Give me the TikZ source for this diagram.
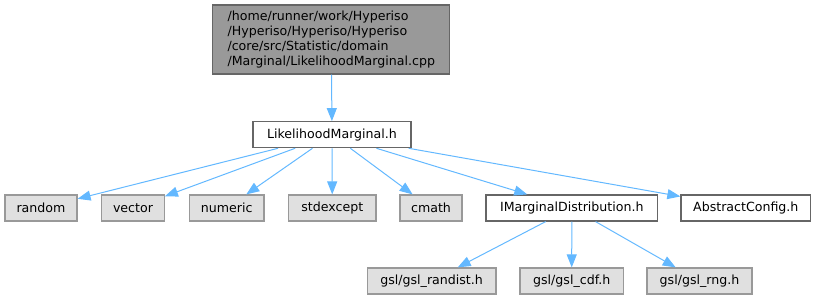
\documentclass[tikz,border=0pt]{standalone}
\usepackage{fontspec}
\setmainfont{DejaVu Sans}
\usetikzlibrary{arrows.meta}
\definecolor{edgeblue}{HTML}{63B8FF}
\definecolor{rootfill}{HTML}{999999}
\definecolor{boxgray}{HTML}{666666}
\definecolor{sysfill}{HTML}{E0E0E0}
\definecolor{sysgray}{HTML}{999999}

\begin{document}
\begin{tikzpicture}[
    x=1pt, y=-1pt,
    font=\fontsize{12.6}{15}\selectfont,
    box/.style={draw=boxgray, line width=1.2pt, inner sep=0pt, minimum height=26pt},
    root/.style={box, fill=rootfill, align=left, minimum width=237pt, minimum height=69pt},
    usr/.style={box, fill=white},
    sys/.style={box, draw=sysgray, fill=sysfill},
    dep/.style={-{Triangle[length=13pt,width=10pt]}, edgeblue, line width=1pt}
  ]
  \useasboundingbox (0,0) rectangle (817,300);

  % Source file
  \node[root] (src) at (331.3,39.5) {/home/runner/work/Hyperiso\\/Hyperiso/Hyperiso/Hyperiso\\/core/src/Statistic/domain\\/Marginal/LikelihoodMarginal.cpp};

  % Header
  \node[usr, minimum width=158pt] (lm) at (332,134.7) {LikelihoodMarginal.h};

  % Direct includes
  \node[sys, minimum width=72pt] (random) at (41,208) {random};
  \node[sys, minimum width=62.6pt] (vector) at (133,208) {vector};
  \node[sys, minimum width=74.7pt] (numeric) at (226.7,208) {numeric};
  \node[sys, minimum width=87.3pt] (stdexcept) at (332.3,208) {stdexcept};
  \node[sys, minimum width=62pt] (cmath) at (431,208) {cmath};
  \node[usr, minimum width=171.7pt] (imd) at (571.8,208) {IMarginalDistribution.h};
  \node[usr, minimum width=129.7pt] (absconf) at (745.8,208) {AbstractConfig.h};

  % GSL includes
  \node[sys, minimum width=128.7pt] (randist) at (431.6,281) {gsl/gsl\_randist.h};
  \node[sys, minimum width=103.3pt] (cdf) at (571.7,281) {gsl/gsl\_cdf.h};
  \node[sys, minimum width=105pt] (rng) at (699.5,281) {gsl/gsl\_rng.h};

  % Edges
  \draw[dep] (src) -- (lm);
  \foreach \t in {random,vector,numeric,stdexcept,cmath,imd,absconf}
    \draw[dep] (lm) -- (\t);
  \foreach \t in {randist,cdf,rng}
    \draw[dep] (imd) -- (\t);
\end{tikzpicture}
\end{document}
